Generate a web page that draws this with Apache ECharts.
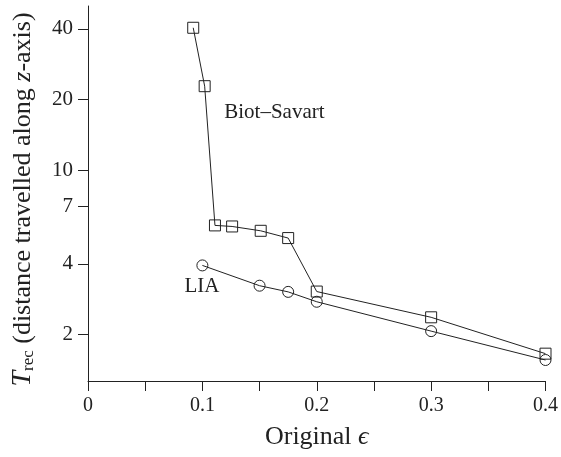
<!DOCTYPE html>
<html>
<head>
<meta charset="utf-8">
<script src="https://cdn.jsdelivr.net/npm/echarts@6.0.0/dist/echarts.min.js"></script>
<style>
html, body { margin: 0; padding: 0; background: #fff; }
#main { width: 561px; height: 457px; }
</style>
</head>
<body>
<div id="main"></div>
<script>
// data
var biotEps = [0.092, 0.102, 0.111, 0.126, 0.151, 0.175, 0.2, 0.3, 0.4];
var biotT = [40.4, 22.8, 5.83, 5.77, 5.53, 5.15, 3.05, 2.37, 1.66];
var liaEps = [0.1, 0.15, 0.175, 0.2, 0.3, 0.4];
var liaT = [3.94, 3.23, 3.04, 2.76, 2.07, 1.56];
var xTicks = [0, 0.1, 0.2, 0.3, 0.4];
var yTicks = [2, 4, 7, 10, 20, 40];

var font = '"Liberation Serif", "DejaVu Serif", serif';
var ink = '#222';

function pairs(xs, ys) {
  var out = [];
  for (var i = 0; i < xs.length; i++) {
    out.push([xs[i], ys[i]]);
  }
  return out;
}

var chart = echarts.init(document.getElementById('main'));
chart.setOption({
  animation: false,
  backgroundColor: '#fff',
  textStyle: { fontFamily: font, color: ink },
  grid: { left: 88, right: 12, top: 6, bottom: 76 },
  xAxis: {
    type: 'value',
    min: 0,
    max: 0.4,
    interval: 0.05,
    name: 'Original {e|ϵ}',
    nameLocation: 'middle',
    nameGap: 43,
    nameTextStyle: {
      fontFamily: font, fontSize: 26, color: ink,
      rich: { e: { fontFamily: font, fontSize: 26, fontStyle: 'italic', color: ink } }
    },
    axisLine: { lineStyle: { color: ink, width: 1 } },
    axisTick: { inside: false, length: 10, lineStyle: { color: ink } },
    axisLabel: {
      customValues: xTicks,
      fontFamily: font, fontSize: 20, color: ink, margin: 15
    },
    splitLine: { show: false }
  },
  yAxis: {
    type: 'log',
    logBase: 10,
    min: 1.27,
    max: 50,
    name: '{t|T}{s|rec} (distance travelled along {i|z}-axis)',
    nameLocation: 'middle',
    nameRotate: 90,
    nameGap: 51,
    nameTextStyle: {
      fontFamily: font, fontSize: 26, color: ink,
      padding: [0, 12, 0, 0],
      rich: {
        t: { fontFamily: font, fontSize: 28, fontStyle: 'italic', color: ink },
        s: { fontFamily: font, fontSize: 17, color: ink, verticalAlign: 'bottom' },
        i: { fontFamily: font, fontSize: 26, fontStyle: 'italic', color: ink }
      }
    },
    axisLine: { show: true, lineStyle: { color: ink, width: 1 } },
    axisTick: { show: true, inside: false, length: 10, customValues: yTicks, lineStyle: { color: ink } },
    axisLabel: {
      customValues: yTicks,
      fontFamily: font, fontSize: 21, color: ink, margin: 15
    },
    splitLine: { show: false },
    minorTick: { show: false }
  },
  series: [
    {
      name: 'Biot–Savart',
      type: 'line',
      data: pairs(biotEps, biotT),
      symbol: 'rect',
      symbolSize: 11,
      lineStyle: { color: ink, width: 1 },
      itemStyle: { color: 'rgba(0,0,0,0)', borderColor: ink, borderWidth: 1 },
      markPoint: {
        symbol: 'circle',
        symbolSize: 1,
        itemStyle: { color: 'rgba(0,0,0,0)' },
        label: { show: true, position: 'inside', fontFamily: font, fontSize: 21, color: ink, formatter: 'Biot–Savart' },
        data: [{ coord: [0.163, 17.6] }]
      }
    },
    {
      name: 'LIA',
      type: 'line',
      data: pairs(liaEps, liaT),
      symbol: 'circle',
      symbolSize: 11,
      lineStyle: { color: ink, width: 1 },
      itemStyle: { color: 'rgba(0,0,0,0)', borderColor: ink, borderWidth: 1 },
      markPoint: {
        symbol: 'circle',
        symbolSize: 1,
        itemStyle: { color: 'rgba(0,0,0,0)' },
        label: { show: true, position: 'inside', fontFamily: font, fontSize: 21, color: ink, formatter: 'LIA' },
        data: [{ coord: [0.0996, 3.2] }]
      }
    }
  ]
});
</script>
</body>
</html>
